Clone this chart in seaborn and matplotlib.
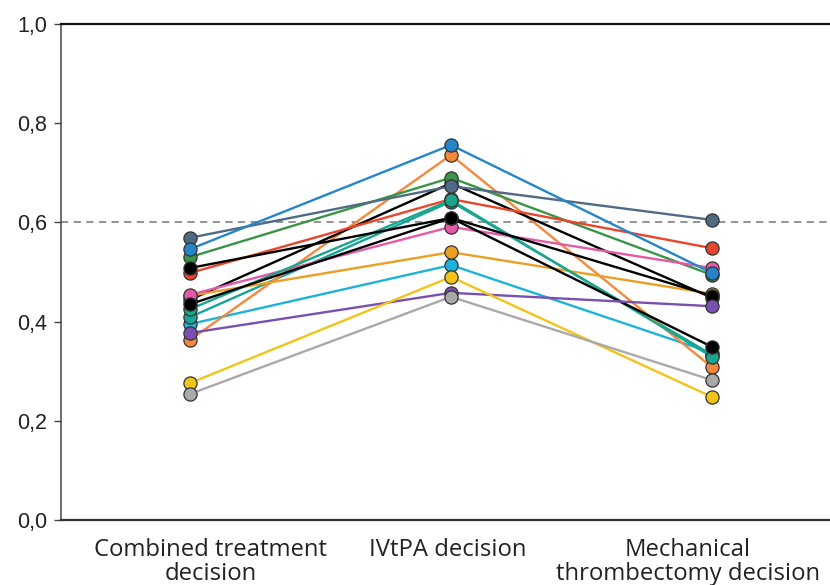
import matplotlib
matplotlib.use("Agg")
import matplotlib.pyplot as plt
import matplotlib.transforms as mtransforms
import seaborn as sns
import pandas as pd

categories = ["Combined treatment\ndecision", "IVtPA decision", "Mechanical\nthrombectomy decision"]

# listed in drawing order (first = underneath)
series_names = ["cyan", "teal_2", "orange", "black_b", "gold", "green", "pink", "red",
                "teal", "slate", "blue", "black_c", "black_a", "purple", "yellow", "gray"]

cyan    = [0.395, 0.514, 0.337]
teal_2  = [0.409, 0.642, 0.333]
orange  = [0.363, 0.736, 0.308]
black_b = [0.444, 0.679, 0.448]
gold    = [0.452, 0.540, 0.456]
green   = [0.530, 0.690, 0.494]
pink    = [0.454, 0.591, 0.508]
red     = [0.498, 0.647, 0.548]
teal    = [0.425, 0.645, 0.329]
slate   = [0.569, 0.673, 0.605]
blue    = [0.546, 0.756, 0.498]
black_c = [0.435, 0.609, 0.452]
black_a = [0.508, 0.609, 0.349]
purple  = [0.377, 0.458, 0.431]
yellow  = [0.276, 0.490, 0.248]
gray    = [0.254, 0.450, 0.282]

values = [cyan, teal_2, orange, black_b, gold, green, pink, red,
          teal, slate, blue, black_c, black_a, purple, yellow, gray]

colors = ["#1cb3d6", "#16a59a", "#f5883a", "#000000", "#e9a024", "#3a9448", "#e25aa8", "#e8452c",
          "#1aa68c", "#4f6a85", "#2585c8", "#000000", "#000000", "#7a4fb0", "#f2c318", "#a9a9a9"]

ref_line = 0.6
yticks = [0.0, 0.2, 0.4, 0.6, 0.8, 1.0]
ytick_labels = ["0,0", "0,2", "0,4", "0,6", "0,8", "1,0"]

rows = []
for name, vals in zip(series_names, values):
    for i, v in enumerate(vals):
        rows.append({"series": name, "pos": i, "value": v})
df = pd.DataFrame(rows)

sns.set_style("ticks")
plt.rcParams["font.family"] = ["Liberation Sans", "DejaVu Sans"]

fig = plt.figure(figsize=(8.3, 5.85), dpi=100)
ax = fig.add_axes([61 / 830, 65 / 585, 780 / 830, 496 / 585])

ax.axhline(ref_line, color="#8a8a8a", lw=1.3, ls=(0, (4, 3)), zorder=0)

sns.lineplot(data=df, x="pos", y="value", hue="series", hue_order=series_names,
             palette=dict(zip(series_names, colors)), sort=False, legend=False,
             marker="o", markersize=9.5, markeredgecolor="#333333", markeredgewidth=0.9,
             linewidth=1.7, ax=ax)

ax.set_xlim(-0.494, 2.494)
ax.set_ylim(0, 1.0)
ax.set_xticks(range(len(categories)))
ax.set_xticklabels(categories, fontsize=17.2, family=["Open Sans", "DejaVu Sans"], linespacing=1.0)
ax.tick_params(axis="x", length=0, pad=13, colors="#222222")
# labels in the reference sit slightly off-centre from their category positions
label_shift_px = [21, -3, -24]
for lab, dx in zip(ax.get_xticklabels(), label_shift_px):
    lab.set_transform(lab.get_transform() +
                      mtransforms.ScaledTranslation(dx / 100, 0, fig.dpi_scale_trans))
ax.set_yticks(yticks)
ax.set_yticklabels(ytick_labels, fontsize=15.5, color="#222222")
ax.tick_params(axis="y", length=5, width=1.0, color="#444444", pad=5)
ax.set_xlabel("")
ax.set_ylabel("")

ax.spines["right"].set_visible(False)
ax.spines["top"].set_linewidth(1.6)
ax.spines["top"].set_color("#111111")
ax.spines["left"].set_linewidth(1.1)
ax.spines["left"].set_color("#444444")
ax.spines["bottom"].set_linewidth(1.6)
ax.spines["bottom"].set_color("#333333")

fig.savefig("out.png", dpi=100)
